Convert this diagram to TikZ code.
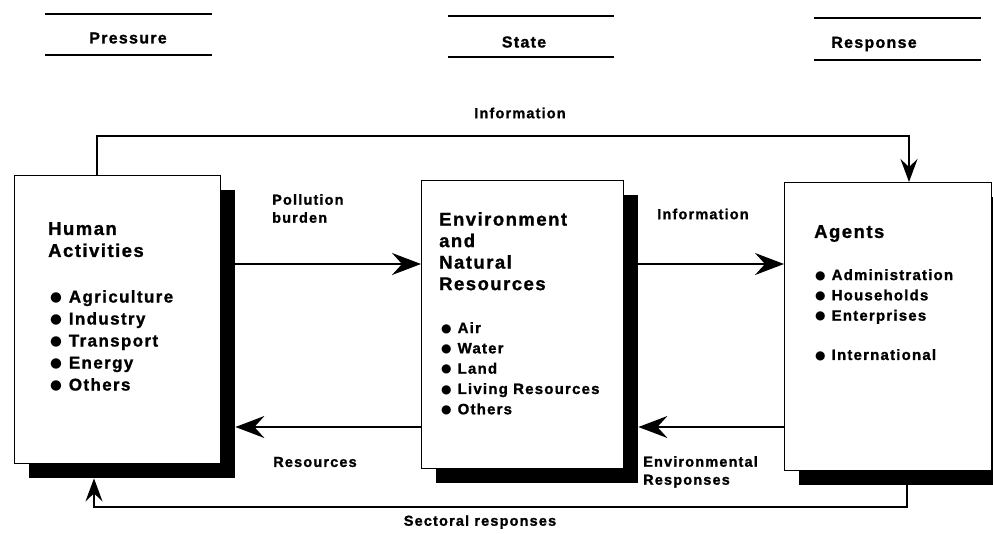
\documentclass[tikz,border=0pt]{standalone}
\usepackage{fontspec}
\setmainfont{Liberation Sans}
\newfontfamily\labfont{Liberation Sans}[LetterSpace=8, BoldFeatures={FakeBold=1.2}]
\newfontfamily\dotfont{DejaVu Sans}
\usetikzlibrary{arrows.meta,calc}
\newcommand\bul{\raisebox{0.06em}{\dotfont\mdseries\fontsize{0.8\dimexpr\fontdimen6\font}{1pt}\selectfont ●}\hspace{0.4em}}

\tikzset{
  box/.style={draw, line width=1.2pt, fill=white, inner sep=0pt, anchor=north west,
    minimum height=288pt},
  boxshade/.style={fill=black, inner sep=0pt, anchor=north west, minimum height=288pt},
  flow/.style={line width=1.8pt, -{Stealth[length=29pt,width=22pt,inset=10pt]}},
  flowsmall/.style={line width=1.8pt, -{Stealth[length=23pt,width=17pt,inset=8pt]}},
  hdr/.style={inner sep=0pt, minimum width=166pt, minimum height=41pt},
  hdrtext/.style={font=\labfont\bfseries\fontsize{16}{18}\selectfont, inner sep=0pt},
  hdrline/.style={line width=1.8pt},
  lbl/.style={font=\labfont\bfseries\fontsize{14.5}{18}\selectfont, align=left, inner sep=0pt},
  ttl/.style={font=\labfont\bfseries\fontsize{18.5}{22}\selectfont, align=left, inner sep=0pt,
    anchor=north west},
  items/.style={font=\labfont\bfseries\fontsize{15}{20.3}\selectfont, align=left,
    inner sep=0pt, anchor=north west},
}

\begin{document}
\begin{tikzpicture}[x=1pt,y=-1pt]
\useasboundingbox (0,0) rectangle (993,533);
\clip (0,0) rectangle (993,533);
\fill[white] (0,0) rectangle (993,533);

% column headings: a pair of rules with the title between them
\node[hdr] (pressure) at (128.5,34.5) {};
\node[hdr] (state) at (531,36.5) {};
\node[hdr] (response) at (897.5,39) {};
\foreach \h in {pressure,state,response}{
  \draw[hdrline] (\h.north west) -- (\h.north east);
  \draw[hdrline] (\h.south west) -- (\h.south east);
}
\node[hdrtext] (pressuretext) at (128,38) {Pressure};
\node[hdrtext] (statetext) at (524,42) {State};
\node[hdrtext] (responsetext) at (874,44) {Response};

% shadows behind the three boxes
\node[boxshade, minimum width=206pt] (hshade) at (29,190) {};
\node[boxshade, minimum width=202pt] (eshade) at (436,195) {};
\node[boxshade, minimum width=207pt] (ashade) at (799,197) {};

% the three boxes
\node[box, minimum width=206pt] (human) at (14,175) {};
\node[box, minimum width=202pt] (env) at (421,180) {};
\node[box, minimum width=207pt] (agents) at (784,182) {};

% box contents
\node[ttl] (humanttl) at (48,222) {Human\\Activities};
\node[items, font=\labfont\bfseries\fontsize{17}{22}\selectfont] (humanlist) at (50,290)
  {\bul Agriculture\\\bul Industry\\\bul Transport\\\bul Energy\\\bul Others};

\node[ttl, font=\labfont\bfseries\fontsize{18.5}{21.5}\selectfont] (envttl) at (439,212)
  {Environment\\and\\Natural\\Resources};
\node[items] (envlist) at (441,322)
  {\bul Air\\\bul Water\\\bul Land\\\bul Living Resources\\\bul Others};

\node[ttl] (agentsttl) at (814,225) {Agents};
\node[items] (agentslist) at (815,269)
  {\bul Administration\\\bul Households\\\bul Enterprises\\[19pt]\bul International};

% levels and turning points of the connectors
\coordinate (fwd) at (0,264);
\coordinate (back) at (0,427);
\coordinate (topline) at (0,136);
\coordinate (botline) at (0,507);
\coordinate (infoA) at (97,0);
\coordinate (infoB) at (909,0);
\coordinate (sectA) at (94,0);
\coordinate (sectB) at (907,0);

% connectors
\draw[flow] (hshade.east |- fwd) -- (env.west |- fwd);
\draw[flow] (eshade.east |- fwd) -- (agents.west |- fwd);
\draw[flow] (env.west |- back) -- (hshade.east |- back);
\draw[flow] (agents.west |- back) -- (eshade.east |- back);
\draw[flowsmall] (human.north -| infoA) -- (infoA |- topline) -- (infoB |- topline)
  -- (agents.north -| infoB);
\draw[flowsmall] (ashade.south -| sectB) -- (sectB |- botline) -- (sectA |- botline)
  -- (hshade.south -| sectA);

% connector labels
\node[lbl] (infotop) at (520,113) {Information};
\node[lbl, anchor=north west] (pollution) at (272,194) {Pollution\\burden};
\node[lbl] (infomid) at (703,214) {Information};
\node[lbl] (resources) at (315,462) {Resources};
\node[lbl, anchor=north west] (envresp) at (643,456) {Environmental\\Responses};
\node[lbl] (sectoral) at (480,522) {Sectoral responses};
\end{tikzpicture}
\end{document}
